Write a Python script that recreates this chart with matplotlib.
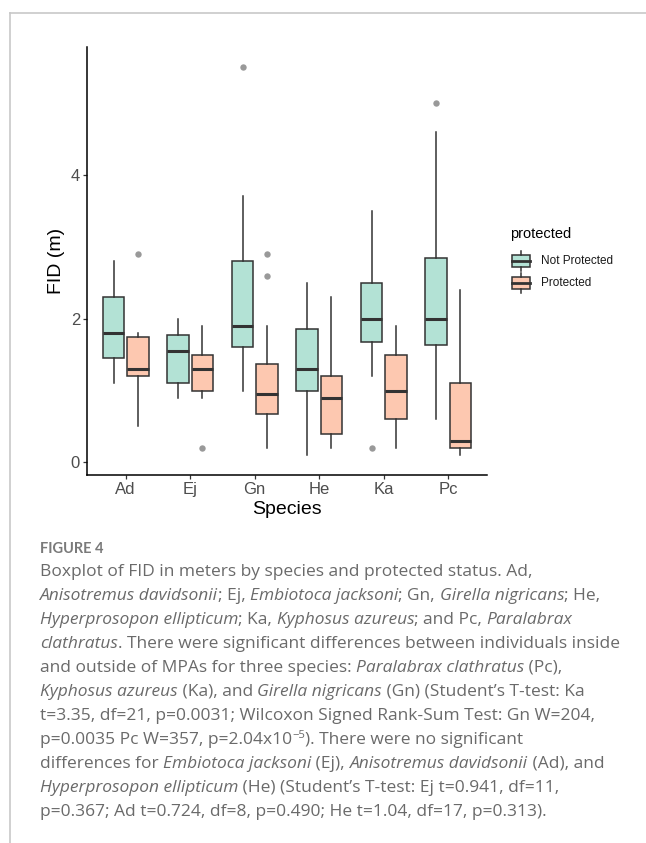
import matplotlib
matplotlib.use("Agg")
import matplotlib.pyplot as plt
import numpy as np
from matplotlib.lines import Line2D
from matplotlib.patches import Rectangle

# valores (FID en m)
species = ["Ad", "Ej", "Gn", "He", "Ka", "Pc"]

np_whislo = [1.1, 0.9, 1.0, 0.1, 1.2, 0.6]
np_q1 = [1.45, 1.1, 1.6, 1.0, 1.675, 1.64]
np_med = [1.8, 1.55, 1.9, 1.3, 2.0, 2.0]
np_q3 = [2.3, 1.77, 2.8, 1.85, 2.5, 2.85]
np_whishi = [2.8, 2.0, 3.7, 2.5, 3.5, 4.6]
np_fliers = [[], [], [5.5], [], [0.2], [5.0]]

pr_whislo = [0.5, 0.9, 0.2, 0.2, 0.2, 0.1]
pr_q1 = [1.2, 1.0, 0.67, 0.4, 0.6, 0.2]
pr_med = [1.3, 1.3, 0.95, 0.9, 1.0, 0.3]
pr_q3 = [1.75, 1.5, 1.37, 1.2, 1.5, 1.1]
pr_whishi = [1.8, 1.9, 1.9, 2.3, 1.9, 2.4]
pr_fliers = [[2.9], [0.2], [2.9, 2.6], [], [], []]

groups = ["Not Protected", "Protected"]
colors = ["#b3e2d5", "#fdc8b0"]
EDGE = "#333333"

plt.rcParams["font.family"] = ["Liberation Sans", "DejaVu Sans"]

W, H = 646, 843
fig = plt.figure(figsize=(W / 100, H / 100), dpi=100)


def px(x, y):
    return x / W, 1 - y / H


def stats(lo, q1, med, q3, hi, fl):
    return [dict(whislo=a, q1=b, med=c, q3=d, whishi=e, fliers=f)
            for a, b, c, d, e, f in zip(lo, q1, med, q3, hi, fl)]


ax = fig.add_axes([87 / W, 1 - 475 / H, 400 / W, 428 / H])
x = np.arange(1, len(species) + 1)
datos = [stats(np_whislo, np_q1, np_med, np_q3, np_whishi, np_fliers),
         stats(pr_whislo, pr_q1, pr_med, pr_q3, pr_whishi, pr_fliers)]
for i, (st, col) in enumerate(zip(datos, colors)):
    off = -0.1875 if i == 0 else 0.1875
    ax.bxp(st, positions=x + off, widths=0.335, patch_artist=True, showcaps=False,
           boxprops=dict(facecolor=col, edgecolor=EDGE, linewidth=1.1),
           medianprops=dict(color=EDGE, linewidth=2.2),
           whiskerprops=dict(color=EDGE, linewidth=1.1),
           flierprops=dict(marker="o", markerfacecolor="#999999", markeredgecolor="none",
                           markersize=4.6))

ax.set_xlim(0.4, 6.6)
ax.set_ylim(-0.175, 5.78)
ax.set_xticks(x)
ax.set_xticklabels(species)
ax.set_yticks([0, 2, 4])
ax.set_yticklabels(["0", "2", "4"])
for s in ["top", "right"]:
    ax.spines[s].set_visible(False)
for s in ["left", "bottom"]:
    ax.spines[s].set_color("black")
    ax.spines[s].set_linewidth(1.1)
ax.tick_params(length=3, width=0.9, color=EDGE, labelcolor="#4d4d4d", labelsize=12, pad=2)
ax.set_xlabel("Species", fontsize=14, color="black", labelpad=3)
ax.set_ylabel("FID (m)", fontsize=14, color="black", labelpad=4)

# leyenda dibujada a mano (glifo tipo boxplot de ggplot)
fig.text(*px(510, 234), "protected", fontsize=10.5, color="black", va="center")
for k, (g, col) in enumerate(zip(groups, colors)):
    cy = 260.7 + k * 22
    x0, x1 = 511.5, 530
    fig.add_artist(Rectangle(px(x0, cy + 6), (x1 - x0) / W, 12 / H, facecolor=col,
                             edgecolor=EDGE, linewidth=1.1))
    fig.add_artist(Line2D([x0 / W, x1 / W], [px(0, cy)[1]] * 2, color=EDGE, lw=2.0))
    cx = (x0 + x1) / 2 / W
    fig.add_artist(Line2D([cx, cx], [px(0, cy - 10)[1], px(0, cy - 6)[1]], color=EDGE, lw=1.1))
    fig.add_artist(Line2D([cx, cx], [px(0, cy + 6)[1], px(0, cy + 10)[1]], color=EDGE, lw=1.1))
    fig.text(*px(541, cy), g, fontsize=8.5, color="#1a1a1a", va="center")

# marco gris del recuadro
fig.add_artist(Line2D([9.5 / W, 1], [1 - 13 / H] * 2, color="#c8c8c8", lw=1.2))
fig.add_artist(Line2D([9.5 / W] * 2, [0, 1 - 13 / H], color="#c8c8c8", lw=1.2))

# pie de figura
CAP = "#6a6a6a"
FUENTE = ["Open Sans", "DejaVu Sans"]
fig.text(*px(40, 549), "FIGURE 4", fontsize=10.5, color="#7a7a7a", fontweight="bold",
         family=["Lato", "DejaVu Sans"], va="center")

N, I, S = "n", "i", "s"
lineas = [
    [(N, "Boxplot of FID in meters by species and protected status. Ad,")],
    [(I, "Anisotremus davidsonii"), (N, "; Ej, "), (I, "Embiotoca jacksoni"), (N, "; Gn, "),
     (I, "Girella nigricans"), (N, "; He,")],
    [(I, "Hyperprosopon ellipticum"), (N, "; Ka, "), (I, "Kyphosus azureus"), (N, "; and Pc, "),
     (I, "Paralabrax")],
    [(I, "clathratus"), (N, ". There were significant differences between individuals inside")],
    [(N, "and outside of MPAs for three species: "), (I, "Paralabrax clathratus"), (N, " (Pc),")],
    [(I, "Kyphosus azureus"), (N, " (Ka), and "), (I, "Girella nigricans"),
     (N, " (Gn) (Student’s T-test: Ka")],
    [(N, "t=3.35, df=21, p=0.0031; Wilcoxon Signed Rank-Sum Test: Gn W=204,")],
    [(N, "p=0.0035 Pc W=357, p=2.04x10"), (S, "−5"), (N, "). There were no significant")],
    [(N, "differences for "), (I, "Embiotoca jacksoni"), (N, " (Ej), "), (I, "Anisotremus davidsonii"),
     (N, " (Ad), and")],
    [(I, "Hyperprosopon ellipticum"), (N, " (He) (Student’s T-test: Ej t=0.941, df=11,")],
    [(N, "p=0.367; Ad t=0.724, df=8, p=0.490; He t=1.04, df=17, p=0.313).")],
]

r = fig.canvas.get_renderer()
# tamano de letra ajustado para que la primera linea mida lo mismo que en el original
prueba = fig.text(0, 0, lineas[0][0][1], fontsize=12, family=FUENTE)
tam = 12 * 488 / prueba.get_window_extent(renderer=r).width
prueba.remove()

y0, paso = 572, 24
for k, segs in enumerate(lineas):
    xx = 40.0
    yy = y0 + k * paso
    for est, txt in segs:
        kw = dict(fontsize=tam, color=CAP, family=FUENTE, va="center")
        yt = yy
        if est == I:
            kw["style"] = "italic"
        if est == S:
            kw["fontsize"] = tam * 0.65
            yt = yy - 5
        t = fig.text(*px(xx, yt), txt, **kw)
        xx += t.get_window_extent(renderer=r).width

fig.savefig("out.png", dpi=100)
